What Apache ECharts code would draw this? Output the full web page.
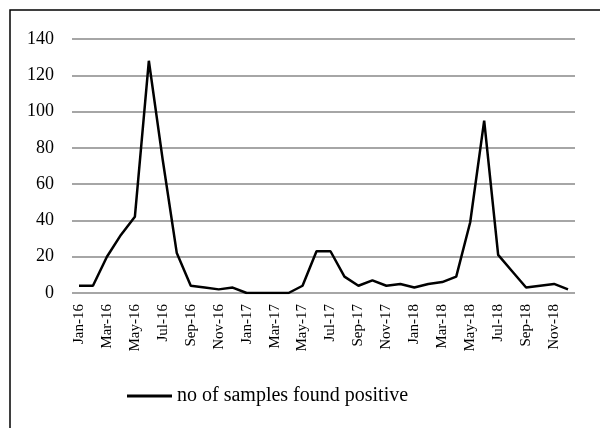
<!DOCTYPE html>
<html>
<head>
<meta charset="utf-8">
<script src="https://cdn.jsdelivr.net/npm/echarts@6/dist/echarts.min.js"></script>
<style>
html,body{margin:0;padding:0;background:#fff;}
#main{width:600px;height:428px;}
</style>
</head>
<body>
<div id="main"></div>
<script>
const months = ['Jan-16','Feb-16','Mar-16','Apr-16','May-16','Jun-16','Jul-16','Aug-16','Sep-16','Oct-16','Nov-16','Dec-16',
  'Jan-17','Feb-17','Mar-17','Apr-17','May-17','Jun-17','Jul-17','Aug-17','Sep-17','Oct-17','Nov-17','Dec-17',
  'Jan-18','Feb-18','Mar-18','Apr-18','May-18','Jun-18','Jul-18','Aug-18','Sep-18','Oct-18','Nov-18','Dec-18'];
const positives = [4,4,20,32,42,128,73,22,4,3,2,3,
  0,0,0,0,4,23,23,9,4,7,4,5,
  3,5,6,9,39,95,21,12,3,4,5,2];
const seriesName = 'no of samples found positive';
const yTicks = {min:0, max:140, interval:20};

const chart = echarts.init(document.getElementById('main'));
const font = '"Liberation Serif","DejaVu Serif",serif';
chart.setOption({
  animation:false,
  backgroundColor:'#fff',
  graphic:[{type:'rect', shape:{x:10,y:10,width:620,height:440}, style:{fill:'none',stroke:'#000',lineWidth:1.5}, silent:true}],
  grid:{left:72,right:25,top:39,bottom:135},
  legend:{
    data:[seriesName], top:381, left:122,
    itemWidth:45, itemHeight:3, icon:'rect', itemGap:4,
    textStyle:{fontFamily:font,fontSize:20,color:'#000'}
  },
  xAxis:{
    type:'category', data:months, boundaryGap:true,
    axisLine:{show:false}, axisTick:{show:false},
    axisLabel:{interval:1, rotate:90, fontFamily:font, fontSize:15, color:'#000', margin:11}
  },
  yAxis:{
    type:'value', min:yTicks.min, max:yTicks.max, interval:yTicks.interval,
    axisLine:{show:false}, axisTick:{show:false},
    axisLabel:{fontFamily:font, fontSize:18, color:'#000', margin:18},
    splitLine:{lineStyle:{color:'#888',width:1.5}}
  },
  series:[{
    name:seriesName, type:'line', data:positives, symbol:'none',
    lineStyle:{color:'#000',width:2.5}, itemStyle:{color:'#000'}
  }]
});
</script>
</body>
</html>
